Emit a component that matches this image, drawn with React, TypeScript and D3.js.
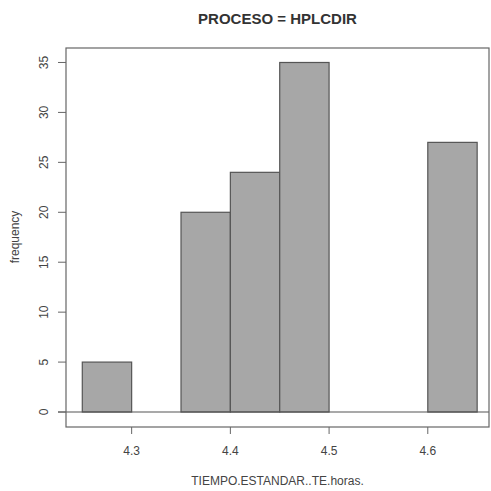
import React from "react";
import * as d3 from "d3";

const binStarts = [4.25, 4.3, 4.35, 4.4, 4.45, 4.5, 4.55, 4.6];
const binWidth = 0.05;
const counts = [5, 0, 20, 24, 35, 0, 0, 27];
const xTicks = [4.3, 4.4, 4.5, 4.6];
const yTicks = [0, 5, 10, 15, 20, 25, 30, 35];
const title = "PROCESO = HPLCDIR";
const xLabel = "TIEMPO.ESTANDAR..TE.horas.";
const yLabel = "frequency";

export default function App() {
  const W = 491, H = 491;
  const left = 66, right = 489, top = 48, bottom = 427;
  const x = d3.scaleLinear().domain([4.2335, 4.662]).range([left, right]);
  const y = d3.scaleLinear().domain([-1.5, 36.45]).range([bottom, top]);
  const font = "'Liberation Sans', Arial, sans-serif";
  const textCol = "#444";
  return (
    <svg width={W} height={H} style={{ position: "absolute", left: 0, top: 0, background: "#fff" }}>
      <rect x={0} y={0} width={W} height={H} fill="#fff" />
      <text x={(left + right) / 2} y={24} textAnchor="middle" fontFamily={font} fontSize={15} fontWeight="bold" fill="#333">{title}</text>
      {binStarts.map((s, i) =>
        counts[i] > 0 ? (
          <rect key={i} x={x(s)} y={y(counts[i])} width={x(s + binWidth) - x(s)} height={y(0) - y(counts[i])}
            fill="#a7a7a7" stroke="#555" strokeWidth={1.2} />
        ) : null
      )}
      <line x1={58} x2={right} y1={y(0)} y2={y(0)} stroke="#555" strokeWidth={1.2} />
      <rect x={left} y={top} width={right - left} height={bottom - top} fill="none" stroke="#666" strokeWidth={1.2} />
      {yTicks.map((t) => (
        <g key={t}>
          <line x1={58} x2={left} y1={y(t)} y2={y(t)} stroke="#666" strokeWidth={1} />
          <text transform={`translate(48,${y(t)}) rotate(-90)`} textAnchor="middle" fontFamily={font} fontSize={12} fill={textCol}>{t}</text>
        </g>
      ))}
      {xTicks.map((t) => (
        <g key={t}>
          <line x1={x(t)} x2={x(t)} y1={bottom} y2={434} stroke="#666" strokeWidth={1} />
          <text x={x(t)} y={455} textAnchor="middle" fontFamily={font} fontSize={12} fill={textCol}>{t}</text>
        </g>
      ))}
      <text x={(left + right) / 2} y={485} textAnchor="middle" fontFamily={font} fontSize={12} fill={textCol}>{xLabel}</text>
      <text transform={`translate(19,237) rotate(-90)`} textAnchor="middle" fontFamily={font} fontSize={12} fill={textCol}>{yLabel}</text>
    </svg>
  );
}
